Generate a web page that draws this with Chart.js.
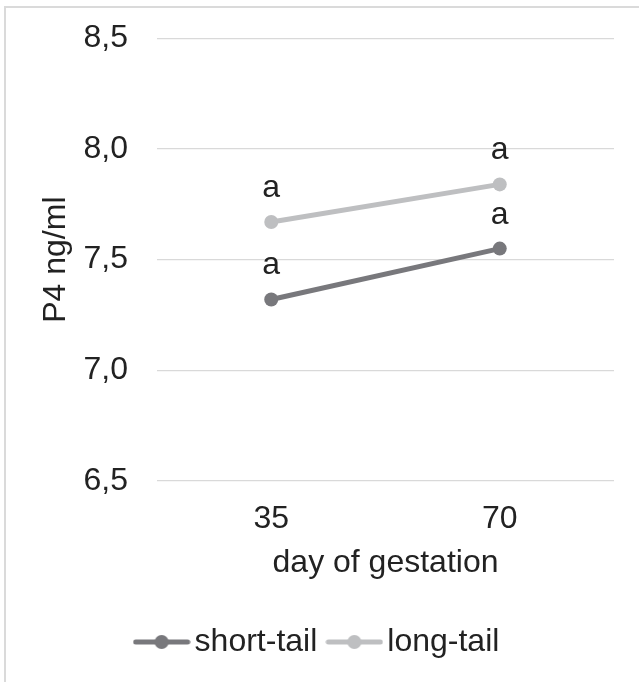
<!DOCTYPE html>
<html>
<head>
<meta charset="utf-8">
<script src="https://cdn.jsdelivr.net/npm/chart.js@4/dist/chart.umd.min.js"></script>
<style>
  html, body { margin: 0; padding: 0; background: #ffffff; }
  #wrap { position: relative; width: 639px; height: 682px; overflow: hidden; }
  #frame { position: absolute; left: 4px; top: 6px; width: 700px; height: 700px; border: 2px solid #dadada; box-sizing: border-box; }
  #c { position: absolute; left: 0; top: 0; }
</style>
</head>
<body>
<div id="wrap">
  <div id="frame"></div>
  <canvas id="c" width="639" height="682"></canvas>
</div>
<script>
// ---- data ----
const categories = ['35', '70'];
const shortTail = [7.32, 7.55];
const longTail = [7.67, 7.84];
const shortTailLetters = ['a', 'a'];
const longTailLetters = ['a', 'a'];
const seriesNames = ['short-tail', 'long-tail'];
const yTickLabels = ['6,5', '7,0', '7,5', '8,0', '8,5'];
const yMin = 6.5, yMax = 8.5, yStep = 0.5;
const xTitle = 'day of gestation';
const yTitle = 'P4 ng/ml';

const colShort = '#78787c';
const colLong = '#bebfc1';
const textColor = '#222222';
const FONT = '"Liberation Sans", Arial, sans-serif';

Chart.defaults.font.family = FONT;
Chart.defaults.color = textColor;

function legendIcon(color) {
  const cv = document.createElement('canvas');
  cv.width = 58; cv.height = 16;
  const g = cv.getContext('2d');
  g.strokeStyle = color; g.lineWidth = 5; g.lineCap = 'round';
  g.beginPath(); g.moveTo(3, 8); g.lineTo(55, 8); g.stroke();
  g.fillStyle = color;
  g.beginPath(); g.arc(29, 8, 7, 0, Math.PI * 2); g.fill();
  return cv;
}
const icons = [legendIcon(colShort), legendIcon(colLong)];

const letterPlugin = {
  id: 'letters',
  afterDatasetsDraw(chart) {
    const ctx = chart.ctx;
    const letters = [shortTailLetters, longTailLetters];
    ctx.save();
    ctx.font = '32px ' + FONT;
    ctx.fillStyle = textColor;
    ctx.textAlign = 'center';
    ctx.textBaseline = 'alphabetic';
    chart.data.datasets.forEach((ds, di) => {
      const meta = chart.getDatasetMeta(di);
      meta.data.forEach((pt, i) => {
        ctx.fillText(letters[di][i], pt.x, pt.y - 25);
      });
    });
    ctx.restore();
  }
};

new Chart(document.getElementById('c'), {
  type: 'line',
  data: {
    labels: categories,
    datasets: [
      { label: seriesNames[0], data: shortTail, borderColor: colShort, backgroundColor: colShort,
        borderWidth: 5, pointRadius: 7, pointBorderWidth: 0, pointBackgroundColor: colShort, tension: 0 },
      { label: seriesNames[1], data: longTail, borderColor: colLong, backgroundColor: colLong,
        borderWidth: 5, pointRadius: 7, pointBorderWidth: 0, pointBackgroundColor: colLong, tension: 0 }
    ]
  },
  options: {
    responsive: false,
    animation: false,
    layout: { padding: { top: 38.3, left: 30, right: 25, bottom: 14 } },
    plugins: {
      title: { display: false },
      tooltip: { enabled: false },
      legend: {
        position: 'bottom',
        labels: {
          usePointStyle: true,
          pointStyleWidth: 34,
          padding: 20,
          color: textColor,
          font: { size: 32 },
          generateLabels(chart) {
            const items = Chart.defaults.plugins.legend.labels.generateLabels(chart);
            items.forEach((it) => { it.pointStyle = icons[it.datasetIndex]; });
            return items;
          }
        }
      }
    },
    scales: {
      x: {
        offset: true,
        grid: { display: false, drawTicks: false },
        border: { display: false },
        ticks: { padding: 19, font: { size: 32 }, color: textColor },
        title: { display: true, text: xTitle, font: { size: 32 }, color: textColor, padding: { top: 0, bottom: 23.5 } },
        afterFit(scale) { scale.height = 125; scale.paddingLeft = 0; scale.paddingRight = 0; }
      },
      y: {
        min: yMin, max: yMax,
        grid: { color: '#d9d9d9', lineWidth: 1.3, drawTicks: false },
        border: { display: false },
        ticks: {
          stepSize: yStep, padding: 29, font: { size: 32 }, color: textColor,
          callback: (v, i) => yTickLabels[i]
        },
        title: { display: true, text: yTitle, font: { size: 32 }, color: textColor, padding: { top: 7, bottom: 0 } },
        afterFit(scale) { scale.width = 127; scale.paddingTop = 0; scale.paddingBottom = 0; }
      }
    }
  },
  plugins: [letterPlugin]
});
</script>
</body>
</html>
